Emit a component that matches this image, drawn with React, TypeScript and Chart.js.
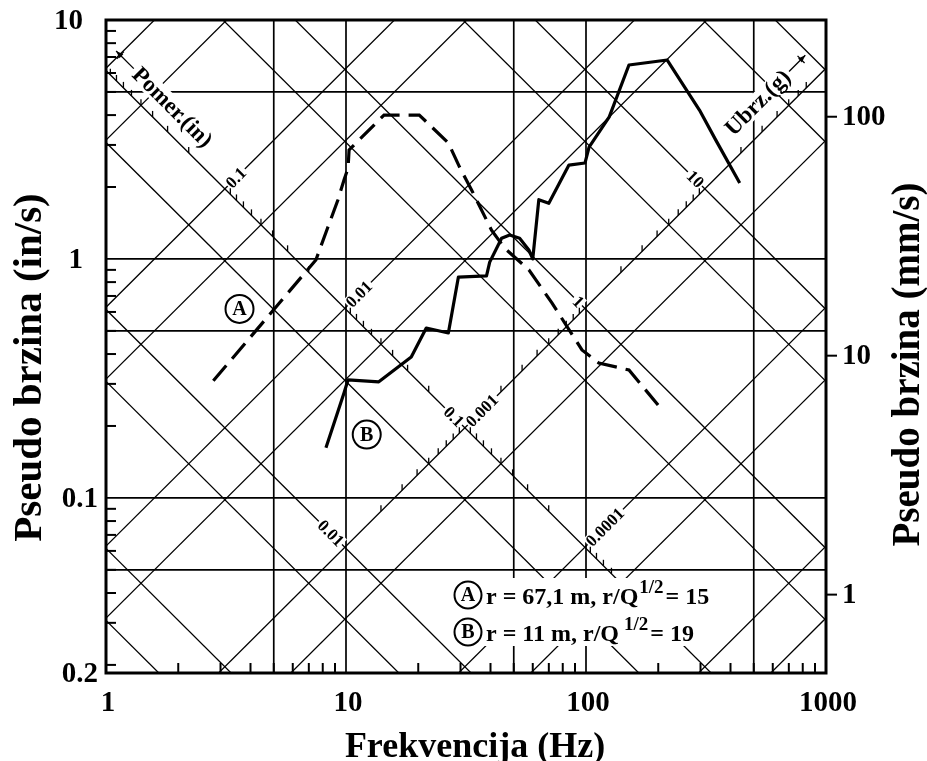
import React, { useEffect, useRef } from "react";
import { Chart, registerables } from "chart.js";

Chart.register(...registerables);

const W = 927;
const H = 790;
const FONT = '"Liberation Serif", "Times New Roman", serif';

// ---- axes ----
const X_MIN = 1;
const X_MAX = 1000;
const Y_MIN = 0.0185;
const Y_MAX = 10;
const MM_PER_IN = 25.4;
const xTickValues = [1, 10, 100, 1000];
const xTickLabels = ["1", "10", "100", "1000"];
const xGridValues = [5, 10, 50, 100, 500];
const yTickValues = [10, 1, 0.1, Y_MIN];
const yTickLabels = ["10", "1", "0.1", "0.2"];
const yGridValues = [5, 1, 0.5, 0.1, 0.05];
const mmTickValues = [100, 10, 1];
const mmTickLabels = ["100", "10", "1"];

// ---- tripartite diagonals ----
const G_IN = 386.09; // in/s^2
const TWO_PI = 2 * Math.PI;
const dispLineValues = [1, 0.5, 0.1, 0.05, 0.01, 0.005, 0.001, 0.0005, 0.0001, 0.00005, 0.00001, 0.000005];
const accLineValues = [100, 50, 10, 5, 1, 0.5, 0.1, 0.05, 0.01, 0.005, 0.001, 0.0005];
const DISP_AXIS_ACC = 0.1; // displacement scale drawn along this acceleration line
const ACC_AXIS_DISP = 0.001; // acceleration scale drawn along this displacement line
const dispLabelValues = [0.1, 0.01, 0.001, 0.0001];
const dispLabelTexts = ["0.1", "0.01", "0.001", "0.0001"];
const accLabelValues = [10, 1, 0.1, 0.01];
const accLabelTexts = ["10", "1", "0.1", "0.01"];

// ---- records ----
const freqA = [2.8, 7.49, 8.41, 9.26, 9.81, 10.2, 10.3, 14.4, 20.2, 26.7, 29.7, 33.4, 40.4, 45.8, 57.8, 72.1, 96.2, 113, 151, 208];
const velA = [0.309, 0.99, 1.36, 1.77, 2.14, 2.4, 2.86, 4.0, 4.0, 3.06, 2.43, 1.94, 1.32, 1.11, 0.9, 0.655, 0.416, 0.367, 0.343, 0.233];
const freqB = [8.25, 9.81, 10.2, 13.7, 18.7, 21.6, 26.7, 29.4, 38.5, 39.7, 44.5, 48.1, 52.9, 57.8, 60.0, 63.6, 70.0, 84.9, 99.0, 103, 125, 151, 218, 297, 347, 437];
const velB = [0.162, 0.275, 0.312, 0.306, 0.389, 0.514, 0.49, 0.84, 0.85, 0.97, 1.22, 1.26, 1.22, 1.09, 1.0, 1.77, 1.71, 2.47, 2.52, 2.94, 3.93, 6.48, 6.8, 4.2, 3.15, 2.08];

// ---- annotations ----
const markLetters = ["A", "B"];
const markFreq = [3.6, 12.2];
const markVel = [0.618, 0.184];
const legendLetters = ["A", "B"];
const legendMain = ["r = 67,1 m, r/Q", "r = 11 m, r/Q"];
const legendSup = ["1/2", "1/2"];
const legendTail = ["= 15", "= 19"];
const titleX = "Frekvencija (Hz)";
const titleYLeft = "Pseudo brzina (in/s)";
const titleYRight = "Pseudo brzina (mm/s)";
const dispAxisTitle = "Pomer.(in)";
const accAxisTitle = "Ubrz.(g)";

const velFromDisp = (f: number, d: number) => TWO_PI * f * d;
const velFromAcc = (f: number, a: number) => (a * G_IN) / (TWO_PI * f);
function intersect(a: number, d: number) {
  const f = Math.sqrt((a * G_IN) / d) / TWO_PI;
  return { f, v: TWO_PI * f * d };
}

function line(ctx: CanvasRenderingContext2D, x1: number, y1: number, x2: number, y2: number) {
  ctx.beginPath();
  ctx.moveTo(x1, y1);
  ctx.lineTo(x2, y2);
  ctx.stroke();
}

function circled(ctx: CanvasRenderingContext2D, cx: number, cy: number, r: number, letter: string) {
  ctx.save();
  ctx.fillStyle = "#fff";
  ctx.beginPath();
  ctx.arc(cx, cy, r, 0, Math.PI * 2);
  ctx.fill();
  ctx.lineWidth = 2;
  ctx.strokeStyle = "#000";
  ctx.stroke();
  ctx.fillStyle = "#000";
  ctx.font = `bold 20px ${FONT}`;
  ctx.textAlign = "center";
  ctx.textBaseline = "middle";
  ctx.fillText(letter, cx, cy + 1);
  ctx.restore();
}

function arrow(ctx: CanvasRenderingContext2D, x1: number, y1: number, x2: number, y2: number) {
  line(ctx, x1, y1, x2, y2);
  const ang = Math.atan2(y2 - y1, x2 - x1);
  ctx.beginPath();
  ctx.moveTo(x2, y2);
  ctx.lineTo(x2 - 8 * Math.cos(ang - 0.35), y2 - 8 * Math.sin(ang - 0.35));
  ctx.lineTo(x2 - 8 * Math.cos(ang + 0.35), y2 - 8 * Math.sin(ang + 0.35));
  ctx.closePath();
  ctx.fill();
  const mx = x2 - 6 * Math.cos(ang), my = y2 - 6 * Math.sin(ang);
  const px = -Math.sin(ang), py = Math.cos(ang);
  line(ctx, mx - 5 * px, my - 5 * py, mx + 5 * px, my + 5 * py);
}

function drawDiagonalScales(chart: any) {
  const { ctx, chartArea: ca, scales } = chart;
  const x = scales.x, y = scales.y;
  const P = (f: number, v: number) => [x.getPixelForValue(f), y.getPixelForValue(v)];
  const r2 = Math.SQRT1_2;
  ctx.save();
  ctx.beginPath();
  ctx.rect(ca.left, ca.top, ca.right - ca.left, ca.bottom - ca.top);
  ctx.clip();
  ctx.textBaseline = "middle";
  ctx.font = `bold 17px ${FONT}`;

  // displacement value labels (on displacement lines, reading up-right)
  dispLabelValues.forEach((d, i) => {
    const { f, v } = intersect(DISP_AXIS_ACC, d);
    const [X, Y] = P(f, v);
    const w = ctx.measureText(dispLabelTexts[i]).width;
    ctx.save();
    ctx.translate(X + 5 * r2, Y - 5 * r2);
    ctx.rotate(-Math.PI / 4);
    ctx.fillStyle = "#fff";
    ctx.fillRect(-1, -7, w + 3, 14);
    ctx.fillStyle = "#000";
    ctx.textAlign = "left";
    ctx.fillText(dispLabelTexts[i], 0, 1);
    ctx.restore();
  });

  // acceleration value labels (on acceleration lines, reading down-right)
  accLabelValues.forEach((a, i) => {
    const { f, v } = intersect(a, ACC_AXIS_DISP);
    const [X, Y] = P(f, v);
    const w = ctx.measureText(accLabelTexts[i]).width;
    ctx.save();
    ctx.translate(X - 5 * r2, Y - 5 * r2);
    ctx.rotate(Math.PI / 4);
    ctx.fillStyle = "#fff";
    ctx.fillRect(-w - 2, -7, w + 3, 14);
    ctx.fillStyle = "#000";
    ctx.textAlign = "right";
    ctx.fillText(accLabelTexts[i], 0, 1);
    ctx.restore();
  });

  // axis names
  ctx.font = `bold 23px ${FONT}`;
  ctx.strokeStyle = "#000";
  ctx.fillStyle = "#000";
  ctx.lineWidth = 1.3;
  {
    const fFoot = 1.63;
    const [X, Y] = P(fFoot, velFromAcc(fFoot, DISP_AXIS_ACC));
    const cx = X + 15.5, cy = Y - 14;
    const w = ctx.measureText(dispAxisTitle).width;
    ctx.save();
    ctx.translate(cx, cy);
    ctx.rotate(Math.PI / 4);
    ctx.fillStyle = "#fff";
    ctx.fillRect(-w / 2 - 4, -10, w + 8, 20);
    ctx.fillStyle = "#000";
    ctx.textAlign = "center";
    ctx.fillText(dispAxisTitle, 0, 1);
    arrow(ctx, -w / 2 - 3, 0, -w / 2 - 28, 0);
    ctx.restore();
  }
  {
    const fFoot = 603;
    const [X, Y] = P(fFoot, velFromDisp(fFoot, ACC_AXIS_DISP));
    const cx = X - 15.5, cy = Y - 18;
    const w = ctx.measureText(accAxisTitle).width;
    ctx.save();
    ctx.translate(cx, cy);
    ctx.rotate(-Math.PI / 4);
    ctx.fillStyle = "#fff";
    ctx.fillRect(-w / 2 - 4, -10, w + 8, 20);
    ctx.fillStyle = "#000";
    ctx.textAlign = "center";
    ctx.fillText(accAxisTitle, 0, 1);
    arrow(ctx, w / 2 + 3, 0, w / 2 + 26, 0);
    ctx.restore();
  }

  // small scale ticks
  ctx.lineWidth = 1.3;
  for (let n = -5; n <= 0; n++) {
    for (let k = 2; k <= 9; k++) {
      const d = k * Math.pow(10, n);
      if (d > 1.0001 || d < 0.000055) continue;
      const { f, v } = intersect(DISP_AXIS_ACC, d);
      const [X, Y] = P(f, v);
      line(ctx, X, Y, X, Y - 6);
    }
  }
  for (let n = -2; n <= 1; n++) {
    for (let k = 2; k <= 9; k++) {
      const a = k * Math.pow(10, n);
      if (a > 75) continue;
      const { f, v } = intersect(a, ACC_AXIS_DISP);
      const [X, Y] = P(f, v);
      line(ctx, X, Y, X, Y - 6);
    }
  }
  ctx.restore();
}

const tripartite = {
  id: "tripartite",
  beforeDatasetsDraw(chart: any) {
    const { ctx, chartArea: ca, scales } = chart;
    const x = scales.x, y = scales.y;
    ctx.save();
    ctx.strokeStyle = "#000";
    ctx.lineWidth = 1.7;
    yGridValues.forEach((v) => {
      const p = y.getPixelForValue(v);
      line(ctx, ca.left, p, ca.right, p);
    });
    xGridValues.forEach((f) => {
      const p = x.getPixelForValue(f);
      line(ctx, p, ca.top, p, ca.bottom);
    });
    ctx.restore();
  },
  beforeDatasetDraw(chart: any, args: any) {
    if (chart.data.datasets[args.index].label !== "A") return;
    drawDiagonalScales(chart);
  },
  afterDatasetsDraw(chart: any) {
    const { ctx, chartArea: ca, scales } = chart;
    const x = scales.x, y = scales.y, y2 = scales.y2;
    ctx.save();
    ctx.strokeStyle = "#000";
    ctx.fillStyle = "#000";

    // legend background (breaks the grid around the legend)
    const lx = ca.left + 362;
    const ly = [ca.bottom - 78, ca.bottom - 41];
    ctx.fillStyle = "#fff";
    ctx.fillRect(lx - 16, ly[0] - 17, 264, ly[1] - ly[0] + 31);
    ctx.fillStyle = "#000";

    // frame
    ctx.lineWidth = 3;
    ctx.strokeRect(ca.left, ca.top, ca.right - ca.left, ca.bottom - ca.top);

    // inward minor ticks (left & bottom)
    ctx.lineWidth = 2;
    for (let n = -2; n <= 0; n++) {
      for (let k = 2; k <= 9; k++) {
        const v = k * Math.pow(10, n);
        if (v < Y_MIN || v > Y_MAX) continue;
        const p = y.getPixelForValue(v);
        line(ctx, ca.left, p, ca.left + 10, p);
      }
    }
    for (let n = 0; n <= 2; n++) {
      for (let k = 2; k <= 9; k++) {
        const f = k * Math.pow(10, n);
        const p = x.getPixelForValue(f);
        line(ctx, p, ca.bottom, p, ca.bottom - 10);
      }
    }

    // tick labels
    ctx.font = `bold 29px ${FONT}`;
    ctx.textBaseline = "middle";
    ctx.textAlign = "right";
    yTickValues.forEach((v, i) => {
      const p = y.getPixelForValue(v);
      const right = yTickLabels[i].includes(".") ? ca.left - 8 : ca.left - 23;
      ctx.fillText(yTickLabels[i], right, p + 2);
    });
    ctx.textAlign = "center";
    ctx.textBaseline = "alphabetic";
    xTickValues.forEach((f, i) => {
      const p = x.getPixelForValue(f);
      ctx.fillText(xTickLabels[i], p + 2, ca.bottom + 38);
    });
    ctx.textAlign = "left";
    ctx.textBaseline = "middle";
    mmTickValues.forEach((m, i) => {
      const p = y2.getPixelForValue(m);
      line(ctx, ca.right, p, ca.right + 11, p);
      ctx.fillText(mmTickLabels[i], ca.right + 16, p + 1);
    });

    // axis titles
    ctx.textAlign = "center";
    ctx.textBaseline = "alphabetic";
    ctx.font = `bold 36px ${FONT}`;
    ctx.fillText(titleX, (ca.left + ca.right) / 2 + 9, ca.bottom + 84);
    ctx.textBaseline = "middle";
    ctx.font = `bold 41px ${FONT}`;
    ctx.save();
    ctx.translate(30, (ca.top + ca.bottom) / 2 + 21);
    ctx.rotate(-Math.PI / 2);
    ctx.fillText(titleYLeft, 0, 0);
    ctx.restore();
    ctx.font = `bold 39px ${FONT}`;
    ctx.save();
    ctx.translate(ca.right + 83, (ca.top + ca.bottom) / 2 + 18);
    ctx.rotate(-Math.PI / 2);
    ctx.fillText(titleYRight, 0, 0);
    ctx.restore();

    // curve marks
    markLetters.forEach((m, i) => {
      circled(ctx, x.getPixelForValue(markFreq[i]), y.getPixelForValue(markVel[i]), 14, m);
    });

    // legend
    legendLetters.forEach((m, i) => {
      circled(ctx, lx, ly[i], 13.5, m);
      ctx.fillStyle = "#000";
      ctx.textAlign = "left";
      ctx.textBaseline = "alphabetic";
      ctx.font = `bold 24px ${FONT}`;
      let tx = lx + 18;
      const base = ly[i] + 9;
      ctx.fillText(legendMain[i], tx, base);
      tx += ctx.measureText(legendMain[i]).width + (i === 0 ? 1 : 5);
      ctx.font = `bold 19px ${FONT}`;
      ctx.fillText(legendSup[i], tx, base - 11);
      tx += ctx.measureText(legendSup[i]).width + 2;
      ctx.font = `bold 24px ${FONT}`;
      ctx.fillText(legendTail[i], tx, base);
    });
    ctx.restore();
  },
};

export default function App() {
  const canvasRef = useRef<HTMLCanvasElement | null>(null);

  useEffect(() => {
    const canvas = canvasRef.current;
    if (!canvas) return;

    const gridSets: any[] = [];
    dispLineValues.forEach((d) => {
      gridSets.push({
        label: "grid",
        data: [
          { x: X_MIN, y: velFromDisp(X_MIN, d) },
          { x: X_MAX, y: velFromDisp(X_MAX, d) },
        ],
        borderColor: "#000",
        borderWidth: 1.3,
        pointRadius: 0,
        order: 10,
      });
    });
    accLineValues.forEach((a) => {
      gridSets.push({
        label: "grid",
        data: [
          { x: X_MIN, y: velFromAcc(X_MIN, a) },
          { x: X_MAX, y: velFromAcc(X_MAX, a) },
        ],
        borderColor: "#000",
        borderWidth: 1.3,
        pointRadius: 0,
        order: 10,
      });
    });

    const chart = new Chart(canvas, {
      type: "line",
      data: {
        datasets: [
          ...gridSets,
          {
            label: "A",
            data: freqA.map((f, i) => ({ x: f, y: velA[i] })),
            borderColor: "#000",
            borderWidth: 3.2,
            borderDash: [20, 9],
            pointRadius: 0,
            tension: 0,
            order: 1,
          },
          {
            label: "B",
            data: freqB.map((f, i) => ({ x: f, y: velB[i] })),
            borderColor: "#000",
            borderWidth: 3.2,
            pointRadius: 0,
            tension: 0,
            borderJoinStyle: "round",
            order: 0,
          },
        ],
      },
      options: {
        animation: false,
        responsive: false,
        maintainAspectRatio: false,
        events: [],
        layout: { padding: { left: 106, top: 20, right: W - 826, bottom: H - 673 } },
        plugins: {
          legend: { display: false },
          tooltip: { enabled: false },
          title: { display: false },
        },
        scales: {
          x: { type: "logarithmic", min: X_MIN, max: X_MAX, display: false },
          y: { type: "logarithmic", min: Y_MIN, max: Y_MAX, display: false },
          y2: {
            type: "logarithmic",
            position: "right",
            min: Y_MIN * MM_PER_IN,
            max: Y_MAX * MM_PER_IN,
            display: false,
          },
        },
      } as any,
      plugins: [tripartite as any],
    });
    return () => chart.destroy();
  }, []);

  return (
    <div style={{ position: "fixed", left: 0, top: 0, width: W, height: H, background: "#fff" }}>
      <canvas ref={canvasRef} width={W} height={H} style={{ display: "block" }} />
    </div>
  );
}
